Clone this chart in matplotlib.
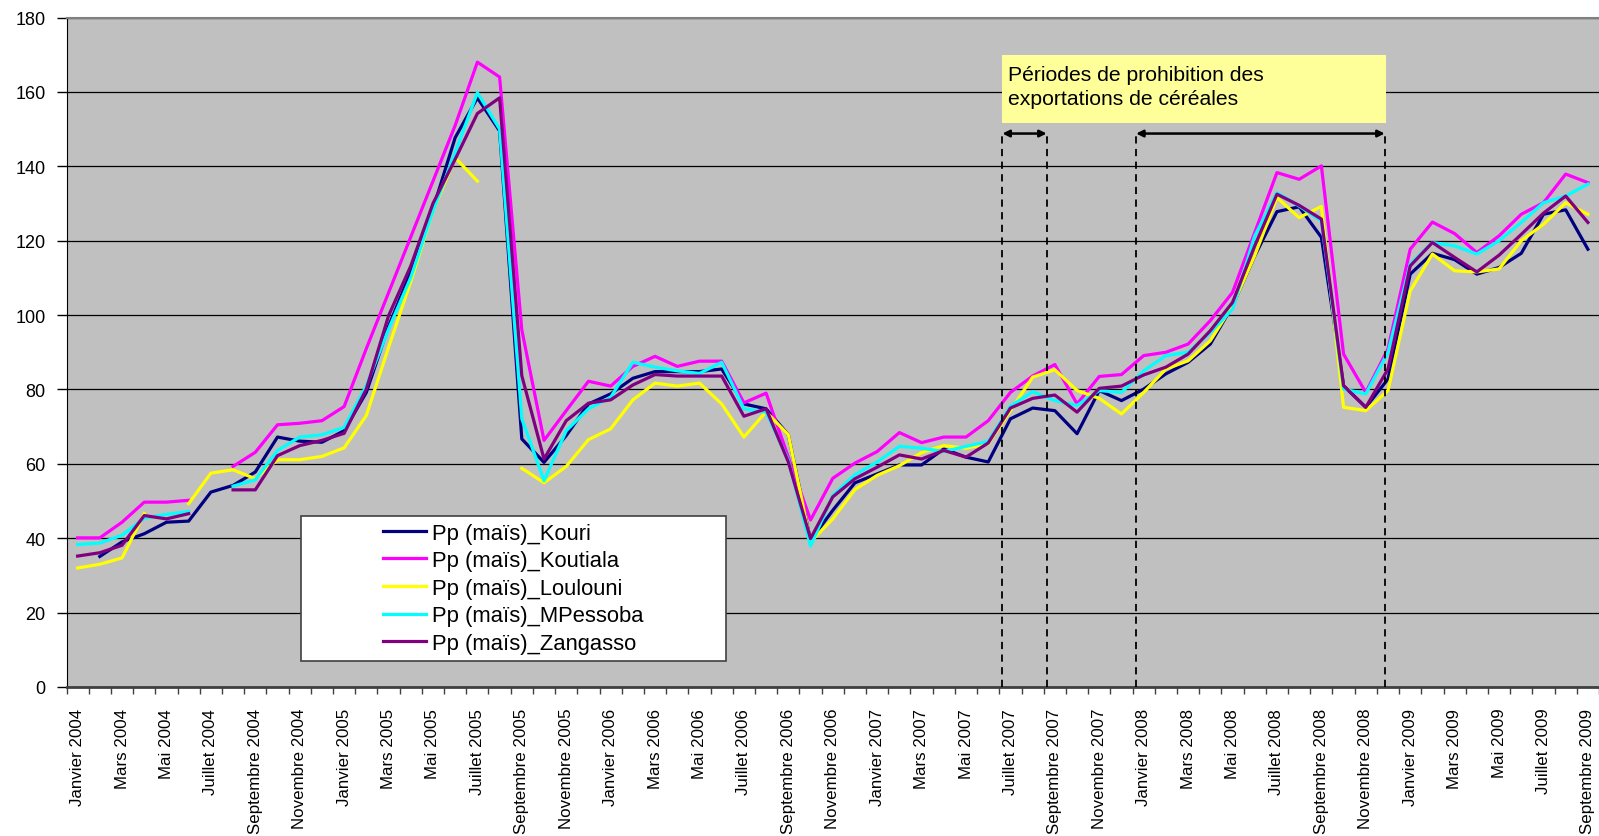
import numpy as np
import matplotlib.pyplot as plt
from matplotlib.patches import Rectangle

plt.rcParams['font.family'] = ['Liberation Sans', 'DejaVu Sans']

mois = ['Janvier', 'Février', 'Mars', 'Avril', 'Mai', 'Juin', 'Juillet',
        'Août', 'Septembre', 'Octobre', 'Novembre', 'Décembre']
etiquettes = [f'{m} {a}' for a in range(2004, 2010) for m in mois][:69]

nan = np.nan
# prix du maïs par marché, janvier 2004 -> septembre 2009
kouri = [nan, 35.1, 39.0, 41.2, 44.3, 44.6, 52.4, 54.2, 57.8, 67.2, 66.1, 65.8,
         68.9, 79.2, 97.0, 111.5, 128.5, 147.7, 158.4, 149.5, 66.7, 60.4, 67.6, 76.1,
         78.8, 83.0, 84.8, 84.8, 84.8, 85.5, 76.1, 74.8, 67.8, 39.4, 47.5, 54.9,
         57.3, 59.7, 59.7, 64.0, 61.8, 60.5, 72.1, 75.0, 74.3, 68.1, 79.7, 77.0,
         80.1, 84.2, 87.3, 92.2, 102.5, 115.9, 127.8, 129.1, 120.9, 81.0, 75.2, 82.8,
         111.0, 116.6, 114.9, 111.0, 112.8, 116.6, 127.1, 128.3, 117.7]
koutiala = [40.1, 40.1, 44.3, 49.7, 49.7, 50.2, nan, 59.3, 63.1, 70.5, 70.9, 71.6,
            75.4, 91.0, 106.0, 121.0, 136.0, 151.0, 168.0, 164.0, 96.0, 66.3, 74.3, 82.2,
            80.9, 86.2, 88.9, 86.2, 87.6, 87.6, 76.4, 79.0, 61.8, 44.9, 56.1, 60.2,
            63.3, 68.4, 65.7, 67.2, 67.2, 71.6, 79.2, 83.6, 86.7, 76.1, 83.5, 84.0,
            89.1, 90.0, 92.2, 98.5, 106.1, 122.2, 138.3, 136.5, 140.1, 89.5, 79.2, 90.9,
            117.7, 125.0, 121.9, 116.8, 121.3, 127.1, 130.2, 137.9, 135.6]
loulouni = [32.0, 33.0, 34.7, 46.6, nan, 49.3, 57.5, 58.4, 56.0, 61.1, 61.1, 62.0,
            64.3, 73.0, 91.3, 109.0, 128.0, 142.3, 136.0, nan, 58.8, 54.9, 59.3, 66.5,
            69.4, 77.2, 81.7, 80.9, 81.7, 76.1, 67.2, 74.0, 67.8, 39.0, 45.2, 53.1,
            56.9, 59.5, 63.0, 64.9, 64.2, 65.4, 74.3, 83.3, 85.3, 79.7, 77.6, 73.4,
            79.2, 85.5, 87.7, 93.1, 102.5, 116.0, 131.6, 126.2, 129.2, 75.2, 74.3, 79.7,
            106.5, 116.4, 111.9, 111.6, 112.4, 120.0, 124.4, 130.2, 127.1]
mpessoba = [38.3, 38.7, 40.8, 45.4, 46.4, 47.2, nan, 54.0, 55.7, 63.6, 67.2, 67.8,
            69.8, 81.0, 96.2, 110.1, 128.0, 143.7, 159.8, 150.0, 72.1, 55.5, 68.9, 74.8,
            77.9, 87.3, 86.0, 85.0, 84.3, 87.3, 74.8, 73.9, 61.0, 37.9, 51.5, 57.1,
            60.5, 64.7, 64.2, 63.3, 64.7, 66.0, 75.5, 79.4, 77.0, 75.7, 79.7, 79.2,
            85.0, 89.1, 90.0, 95.3, 101.6, 121.3, 132.9, 129.3, 125.3, 80.1, 78.8, 90.0,
            113.7, 119.5, 118.6, 116.4, 120.0, 124.9, 130.2, 132.0, 135.2]
zangasso = [35.2, 36.1, 38.1, 46.1, 45.2, 46.6, nan, 53.0, 53.0, 62.2, 64.9, 66.3,
            68.2, 80.1, 99.8, 113.2, 130.0, 141.9, 154.2, 158.4, 83.7, 61.3, 71.6, 76.3,
            77.2, 81.2, 84.0, 83.6, 83.6, 83.6, 72.8, 74.8, 60.5, 39.9, 51.1, 56.0,
            59.1, 62.4, 61.3, 63.6, 61.8, 65.6, 75.0, 77.6, 78.5, 73.9, 80.3, 80.9,
            83.9, 86.0, 89.5, 95.8, 103.4, 118.6, 132.5, 129.5, 125.8, 81.0, 75.2, 85.5,
            113.2, 119.5, 115.5, 111.6, 116.1, 121.7, 127.4, 132.0, 124.9]

series = [('Pp (maïs)_Kouri', kouri, '#000080'),
          ('Pp (maïs)_Koutiala', koutiala, '#FF00FF'),
          ('Pp (maïs)_Loulouni', loulouni, '#FFFF00'),
          ('Pp (maïs)_MPessoba', mpessoba, '#00FFFF'),
          ('Pp (maïs)_Zangasso', zangasso, '#800080')]

# périodes de prohibition (en position de mois)
limites = [41.64, 43.63, 47.66, 58.85]

W, H = 1599, 837
fig = plt.figure(figsize=(W / 100, H / 100), dpi=100)
ax = fig.add_axes([66.5 / W, 1 - 688 / H, (W - 66.5) / W, (688 - 18.5) / H])
ax.set_facecolor('#C0C0C0')

x = np.arange(len(etiquettes))
for nom, val, col in series:
    ax.plot(x, val, color=col, lw=2.3, label=nom)

ax.set_ylim(0, 180)
ax.set_xlim(-0.5, 68.14)
ax.set_yticks(range(0, 181, 20))
ax.yaxis.grid(True, color='black', lw=0.9)
ax.set_axisbelow(True)
ax.tick_params(axis='y', direction='out', length=7, width=1, labelsize=13, pad=8)

ax.set_xticks(np.arange(-0.5, 69, 1))
ax.set_xticklabels([])
ax.set_xticks(x[::2], minor=True)
ax.set_xticklabels(etiquettes[::2], minor=True, rotation=90, fontsize=12.2)
ax.tick_params(axis='x', which='major', direction='out', length=5, width=1, color='#404040')
ax.tick_params(axis='x', which='minor', length=0, pad=15)

ax.spines['left'].set_color('black')
ax.spines['bottom'].set_color('#404040')
ax.spines['bottom'].set_linewidth(2)
ax.spines['top'].set_color('#808080')
ax.spines['top'].set_linewidth(1.5)
ax.spines['right'].set_visible(False)

# encadré et flèches
ax.add_patch(Rectangle((41.61, 151.7), 58.9 - 41.61, 169.8 - 151.7,
                       facecolor='#FFFF99', edgecolor='none', zorder=4))
ax.text(41.91, 161.5, 'Périodes de prohibition des\nexportations de céréales',
        va='center', ha='left', fontsize=15.2, linespacing=1.3, zorder=5)
for xv in limites:
    ax.plot([xv, xv], [0, 148.8], color='black', lw=1.3, ls=(0, (4, 3)), zorder=3)
for a, b in [(limites[0], limites[1]), (limites[2], limites[3])]:
    ax.annotate('', xy=(b, 148.8), xytext=(a, 148.8),
                arrowprops=dict(arrowstyle='<|-|>', color='black', lw=1.8,
                                shrinkA=0, shrinkB=0, mutation_scale=10))

# légende
ax.add_patch(Rectangle((300.7 / W, 1 - 661.7 / H), 425 / W, 145 / H,
                       transform=fig.transFigure, facecolor='white',
                       edgecolor='#404040', lw=1.2, zorder=4.5))
ax.legend(loc='center', bbox_to_anchor=(513.2 / W, 1 - 589.2 / H),
          bbox_transform=fig.transFigure, frameon=False, fontsize=15.8,
          handlelength=1.95, handletextpad=0.25, labelspacing=0.3)

fig.savefig('out.png', dpi=100)
